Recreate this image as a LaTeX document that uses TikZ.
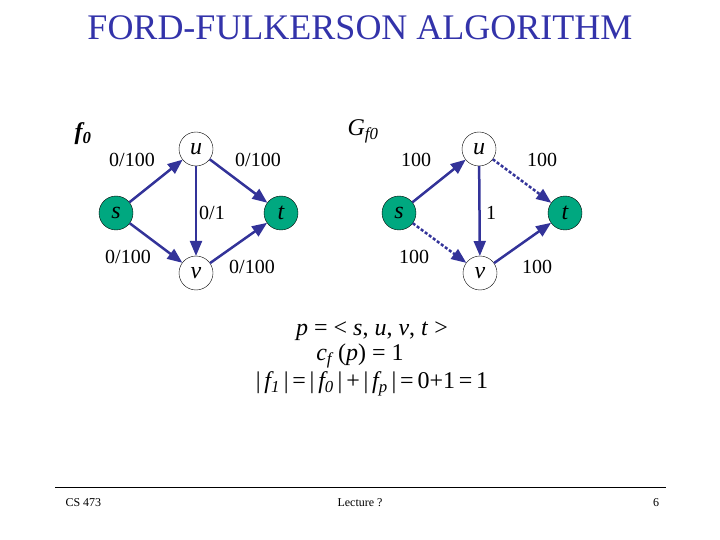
\documentclass[tikz,border=0pt]{standalone}
\usepackage{fontspec}
\setmainfont{Liberation Serif}
\usetikzlibrary{arrows}
\definecolor{edgeblue}{RGB}{51,51,153}
\definecolor{titleblue}{RGB}{51,51,170}
\definecolor{nodegreen}{RGB}{0,168,128}
\tikzset{
  vertex/.style={circle,draw=black,thin,fill=white,minimum size=34pt,inner sep=0pt,
    font=\fontsize{24}{24}\selectfont\itshape},
  terminal/.style={vertex,fill=nodegreen},
  flow/.style={line width=2.5pt,draw=edgeblue,-triangle 45},
  residual/.style={flow,dash pattern=on 3pt off 2pt},
  elabel/.style={font=\fontsize{20}{20}\selectfont},
  mathline/.style={font=\fontsize{24}{24}\selectfont},
  footer/.style={font=\fontsize{12}{12}\selectfont}
}

\begin{document}
\begin{tikzpicture}[x=1pt,y=-1pt]
  \useasboundingbox (0,0) rectangle (720,540);
  \node[font=\fontsize{36}{36}\selectfont,text=titleblue] (title) at (360,28) {FORD-FULKERSON ALGORITHM};

  % flow f0
  \node[mathline] (fzero) at (83,134) {\textbf{\textit{f\textsubscript{0}}}};
  \node[terminal] (s1) at (116,213) {s};
  \node[vertex]   (u1) at (196,149) {u};
  \node[vertex]   (v1) at (196,273) {v};
  \node[terminal] (t1) at (281,213) {t};
  \draw[flow] (s1) -- (u1);
  \draw[flow] (s1) -- (v1);
  \draw[flow] (u1) -- (v1);
  \draw[flow] (u1) -- (t1);
  \draw[flow] (v1) -- (t1);
  \node[elabel] (su1) at (132,160) {0/100};
  \node[elabel] (ut1) at (258,160) {0/100};
  \node[elabel] (uv1) at (212,213) {0/1};
  \node[elabel] (sv1) at (128,257) {0/100};
  \node[elabel] (vt1) at (252,267) {0/100};

  % residual network
  \node[mathline] (gfzero) at (363,131) {\textit{G\textsubscript{f0}}};
  \node[terminal] (s2) at (399,213) {s};
  \node[vertex]   (u2) at (479,149) {u};
  \node[vertex]   (v2) at (480,273) {v};
  \node[terminal] (t2) at (565,213) {t};
  \draw[flow]     (s2) -- (u2);
  \draw[residual] (s2) -- (v2);
  \draw[flow]     (u2) -- (v2);
  \draw[residual] (u2) -- (t2);
  \draw[flow]     (v2) -- (t2);
  \node[elabel] (su2) at (416,160) {100};
  \node[elabel] (ut2) at (542,160) {100};
  \node[elabel] (uv2) at (491,213) {1};
  \node[elabel] (sv2) at (414,257) {100};
  \node[elabel] (vt2) at (537,267) {100};

  % augmenting path
  \node[mathline] (path) at (372,331) {\textit{p} = < \textit{s}, \textit{u}, \textit{v}, \textit{t} >};
  \node[mathline] (bottleneck) at (360,356) {\textit{c\textsubscript{f}} (\textit{p}) = 1};
  \node[mathline] (value) at (372,384) {\spaceskip=3.8pt | \textit{f\textsubscript{1}} | = | \textit{f\textsubscript{0}} | + | \textit{f\textsubscript{p}} | = 0+1 = 1};

  % footer
  \coordinate (ruleL) at (55,487);
  \coordinate (ruleR) at (666,487);
  \draw[line width=1pt] (ruleL) -- (ruleR);
  \node[footer,anchor=west] (course) at (62,503) {CS 473};
  \node[footer] (lecture) at (360,503) {Lecture ?};
  \node[footer] (page) at (656,503) {6};
\end{tikzpicture}
\end{document}
